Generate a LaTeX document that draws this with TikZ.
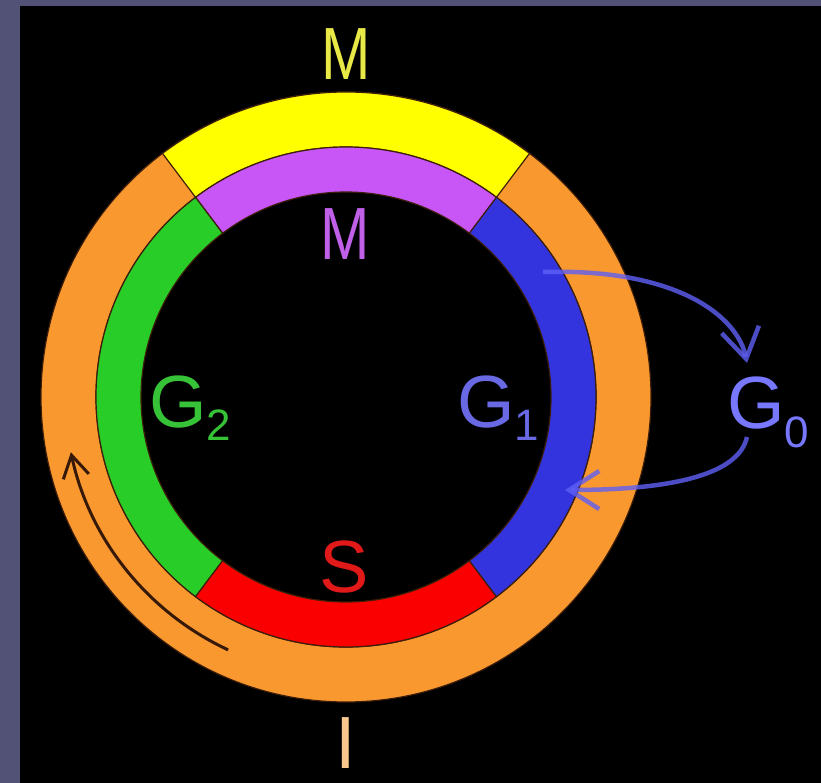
\documentclass[tikz,border=0pt]{standalone}
\usepackage{fontspec}
\setmainfont{Liberation Sans}
\usetikzlibrary{arrows.meta}
\definecolor{slate}{RGB}{82,82,118}
\definecolor{ringorange}{RGB}{250,152,48}
\definecolor{ringyellow}{RGB}{255,255,0}
\definecolor{ringpurple}{RGB}{200,85,245}
\definecolor{ringgreen}{RGB}{40,205,40}
\definecolor{ringred}{RGB}{250,0,0}
\definecolor{ringblue}{RGB}{52,52,222}
\definecolor{edgedark}{RGB}{60,30,10}
\definecolor{txtyellow}{RGB}{232,232,70}
\definecolor{txtpurple}{RGB}{192,95,232}
\definecolor{txtgreen}{RGB}{55,195,55}
\definecolor{txtblue}{RGB}{105,105,228}
\definecolor{txtgzero}{RGB}{120,120,255}
\definecolor{txtred}{RGB}{225,25,25}
\definecolor{txtpeach}{RGB}{250,200,140}
\definecolor{arrowblue}{RGB}{95,95,245}
\definecolor{arrowdark}{RGB}{55,25,8}
\newcommand{\sectorfill}[5]{%
  \filldraw[fill=#1,draw=edgedark,line width=1.2]
    ($(C)+(#2:#4)$) arc[start angle=#2,end angle=#3,radius=#4]
    -- ($(C)+(#3:#5)$) arc[start angle=#3,end angle=#2,radius=#5] -- cycle;}
\newcommand{\subs}[2]{\raisebox{#1}{\fontsize{44}{44}\selectfont #2}}
\usetikzlibrary{calc}
\begin{document}
\begin{tikzpicture}[x=1pt,y=1pt,
  lbl/.style={inner sep=0pt,font=\fontsize{74}{74}\selectfont},
  cyclearrow/.style={line width=4.5,arrowblue,draw opacity=0.8,
    -{Straight Barb[length=30,width=38,line width=4.5]}},
  ringarrow/.style={line width=3,arrowdark,
    -{Straight Barb[length=22,width=26,line width=3]}}]
\useasboundingbox (0,0) rectangle (821,-783);
\fill[slate] (0,0) rectangle (821,-783);
\fill[black] (20,-6) rectangle (821,-783);
\coordinate (C) at (346,-397);
% outer ring
\filldraw[fill=ringorange,draw=edgedark,line width=1.2,even odd rule]
  (C) circle[radius=305] (C) circle[radius=250];
\sectorfill{ringyellow}{53}{127}{305}{250}
% inner ring
\sectorfill{ringpurple}{53}{127}{250}{205}
\sectorfill{ringgreen}{127}{233}{250}{205}
\sectorfill{ringred}{233}{307}{250}{205}
\sectorfill{ringblue}{-53}{53}{250}{205}
% labels
\node[lbl,anchor=base,text=txtyellow] (mout) at (346,-80) {\scalebox{0.8}[1]{M}};
\node[lbl,anchor=base,text=txtpurple] (min) at (345,-260) {\scalebox{0.8}[1]{M}};
\node[lbl,anchor=base west,text=txtgreen] (g2) at (149,-427) {G\subs{-13pt}{2}};
\node[lbl,anchor=base west,text=txtblue] (g1) at (457,-427) {G\subs{-13pt}{1}};
\node[lbl,anchor=base west,text=txtgzero] (g0) at (727,-428) {G\subs{-19pt}{0}};
\node[lbl,anchor=base,text=txtred] (s) at (344,-592) {S};
\node[lbl,anchor=base,text=txtpeach] (i) at (346,-768) {I};
% arrows G1 -> G0 -> G1
\coordinate (outstart) at (543,-272);
\coordinate (outend) at (747,-363);
\coordinate (backstart) at (747,-437);
\coordinate (backend) at (565,-490);
\draw[cyclearrow] (outstart) .. controls (680,-268) and (738,-318) .. (outend);
\draw[cyclearrow] (backstart) .. controls (738,-478) and (660,-490) .. (backend);
% direction arrow in orange ring
\coordinate (dirstart) at ($(C)+(245:279)$);
\draw[ringarrow] (dirstart) arc[start angle=245,end angle=192,radius=283] coordinate (dirend);
\end{tikzpicture}
\end{document}
